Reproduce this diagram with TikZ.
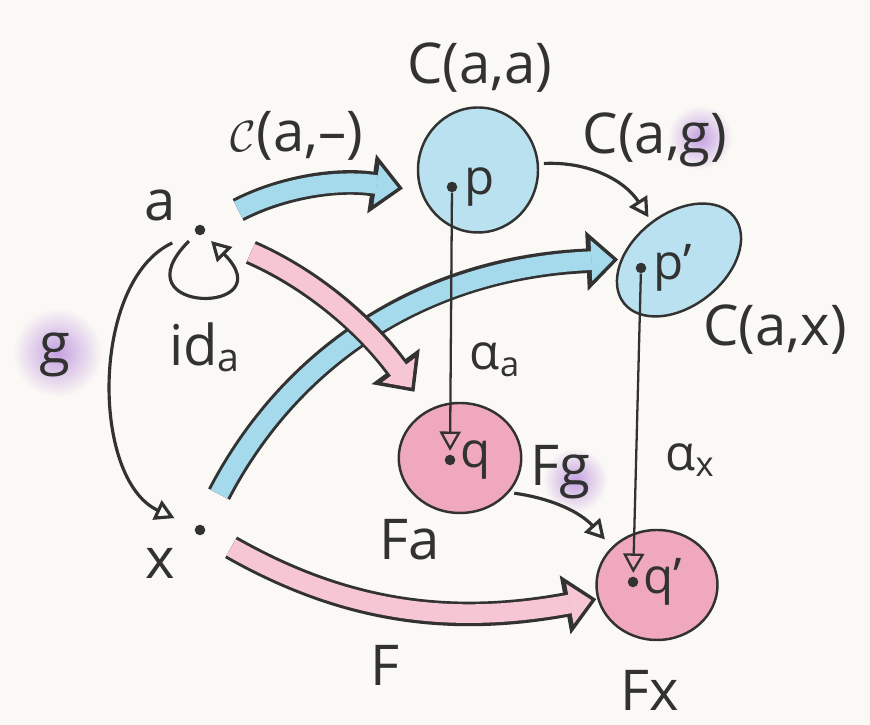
\documentclass[tikz,border=0pt]{standalone}
\usepackage{fontspec}
\setmainfont{Open Sans}
\usetikzlibrary{arrows.meta, positioning, shapes.geometric}

\definecolor{paper}{RGB}{251,249,245}
\definecolor{ink}{RGB}{50,50,50}
\definecolor{sky}{RGB}{185,225,240}
\definecolor{skyarr}{RGB}{165,218,236}
\definecolor{rose}{RGB}{240,168,188}
\definecolor{rosearr}{RGB}{246,198,212}
\definecolor{lilac}{RGB}{196,160,224}

\begin{document}
\begin{tikzpicture}[
  font=\fontsize{32}{38}\selectfont, ink,
  blob/.style={ellipse, draw=ink, line width=1.4pt, inner sep=0pt},
  pt/.style={circle, fill=ink, inner sep=0pt, minimum size=6pt},
  ptlbl/.style={inner sep=1pt, font=\fontsize{28}{32}\selectfont},
  small/.style={font=\fontsize{28}{32}\selectfont},
  arr/.style={line width=1.8pt, -{Triangle[open, length=11pt, width=12pt]}},
  fat/.style 2 args={line width=14pt, draw=ink, shorten >=#2,
    -{Triangle[length=18pt, width=34pt, line width=0.8pt]},
    postaction={draw=#1, line width=10.6pt, shorten >=#2+2.9pt,
      -{Triangle[length=12.3pt, width=23pt, line width=0.5pt]}}}
]
\fill[paper] (0,0) rectangle (17.4,14.5);
\useasboundingbox (0,0) rectangle (17.4,14.5);

% watercolour spots behind the g's
\shade[inner color=lilac, outer color=paper] (1.15,7.45) circle (0.9);
\shade[inner color=lilac, outer color=paper] (14.0,11.75) circle (0.65);
\shade[inner color=lilac, outer color=paper] (11.5,4.9) circle (0.65);

\node[blob, fill=sky, minimum width=2.4cm, minimum height=2.5cm] (caa) at (9.56,11.1) {};
\node[blob, fill=sky, minimum width=2.8cm, minimum height=1.85cm, rotate=38] (cax) at (13.58,9.3) {};
\node[blob, fill=rose, minimum width=2.45cm, minimum height=2.2cm] (fa) at (9.2,5.34) {};
\node[blob, fill=rose, minimum width=2.42cm, minimum height=2.2cm] (fx) at (13.14,2.8) {};

\node[pt] (a)  at (4.0,9.9) {};
\node[pt] (x)  at (4.0,3.9) {};
\node[pt] (p)  at (9.04,10.76) {};
\node[pt] (pp) at (12.82,9.14) {};
\node[pt] (q)  at (9.0,5.3) {};
\node[pt] (qq) at (12.66,2.86) {};

\draw[fat={skyarr}{0.35cm}, shorten <=0.75cm] (a) to[bend left=18] (caa.200);
\draw[fat={skyarr}{0.05cm}, shorten <=0.7cm] (x) to[bend left=30] (cax);
\draw[fat={rosearr}{0.45cm}, shorten <=1.0cm] (a) to[bend left=15] (fa);
\draw[fat={rosearr}{0.02cm}, shorten <=0.6cm] (x) to[bend right=20] (fx);

\draw[arr, shorten <=0.5cm, shorten >=0.45cm] (a) to[bend right=65] (x);
\draw[arr, shorten <=0.2cm, shorten >=0.2cm] (a) to[out=225, in=-45, looseness=8, min distance=2.3cm] (a);
\draw[arr, shorten <=0.1cm, shorten >=0.1cm] (caa) to[bend left=30] (cax);
\draw[arr, shorten <=0.1cm, shorten >=0.2cm] (fa.-35) to[bend left=20] (fx.140);
\draw[arr, line width=1.3pt, shorten >=2pt] (p) -- (q);
\draw[arr, line width=1.3pt, shorten >=2pt] (pp) -- (qq);

\node (alab) at (3.2,10.4) {a};
\node (idlab) at (4.1,7.55) {id\textsubscript{a}};
\node (xlab) at (3.2,3.24) {x};
\node (glab) at (1.1,7.4) {g};
\node (caalab) at (9.6,13.14) {C(a,a)};
\node (elab) at (5.94,11.78) {$\mathcal{C}$(a,–)};
\node (cglab) at (13.1,11.7) {C(a,g)};
\node (caxlab) at (15.5,7.9) {C(a,x)};
\node[small] (alphaa) at (9.9,7.3) {α\textsubscript{a}};
\node[small] (alphax) at (13.8,5.3) {α\textsubscript{x}};
\node (falab) at (8.2,3.7) {Fa};
\node (fxlab) at (13.0,0.7) {Fx};
\node (fglab) at (11.2,5.05) {Fg};
\node (flab) at (7.7,1.2) {F};
\node[ptlbl, right=1mm of p] (plab) {p};
\node[ptlbl, right=1mm of pp] (pplab) {p’};
\node[ptlbl, right=0.5mm of q] (qlab) {q};
\node[ptlbl, right=0.5mm of qq] (qqlab) {q’};
\end{tikzpicture}
\end{document}
